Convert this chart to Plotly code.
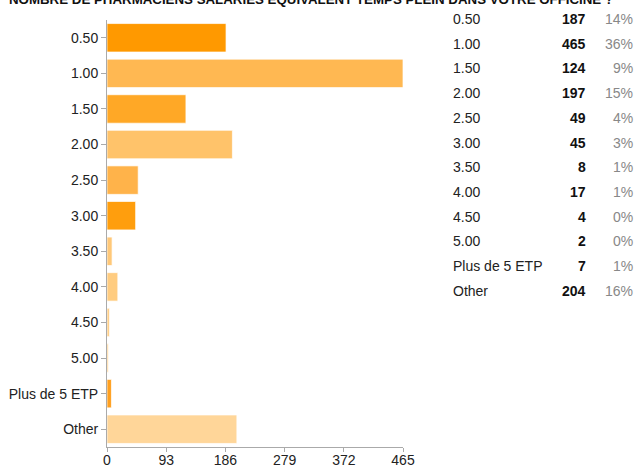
import plotly.graph_objects as go

title = "NOMBRE DE PHARMACIENS SALARIÉS ÉQUIVALENT TEMPS PLEIN DANS VOTRE OFFICINE ?"
categories = ["0.50", "1.00", "1.50", "2.00", "2.50", "3.00", "3.50", "4.00",
              "4.50", "5.00", "Plus de 5 ETP", "Other"]
counts = [187, 465, 124, 197, 49, 45, 8, 17, 4, 2, 7, 204]
percents = ["14%", "36%", "9%", "15%", "4%", "3%", "1%", "1%", "0%", "0%", "1%", "16%"]
tick_vals = [0, 93, 186, 279, 372, 465]
bar_colors = ["#FF9900", "#FFB852", "#FFA826", "#FFC36A", "#FFB34A", "#FF9E0D",
              "#FFC878", "#FFCC80", "#FFD08A", "#FFCC80", "#FFA020", "#FFD699"]

FONT = "Liberation Sans, Arial, sans-serif"

fig = go.Figure()
fig.add_trace(go.Bar(
    y=categories, x=counts, orientation="h",
    marker=dict(color=bar_colors, line=dict(color="rgba(255,255,255,0.7)", width=1)),
    width=0.8, hoverinfo="x+y",
))

# plot area in pixels: left 107, right 403, top 20, bottom 447
L, R, T, B = 107, 403, 20, 447
def px_x(p):
    return (p - L) / (R - L)
def px_y(p):
    return (B - p) / (B - T)

annotations = [dict(
    text="<b>" + title + "</b>", xref="paper", yref="paper",
    x=px_x(7), y=px_y(0), xanchor="left", yanchor="middle", showarrow=False,
    font=dict(family=FONT, size=13.3, color="#111"),
)]
row0, step = 19, 24.7
for i, (c, n, p) in enumerate(zip(categories, counts, percents)):
    yy = px_y(row0 + i * step)
    annotations.append(dict(text=c, xref="paper", yref="paper", x=px_x(451), y=yy,
                            xanchor="left", yanchor="middle", showarrow=False,
                            font=dict(family=FONT, size=14, color="#222")))
    annotations.append(dict(text="<b>" + str(n) + "</b>", xref="paper", yref="paper",
                            x=px_x(588), y=yy, xanchor="right", yanchor="middle",
                            showarrow=False, font=dict(family=FONT, size=14, color="#111")))
    annotations.append(dict(text=p, xref="paper", yref="paper", x=px_x(635), y=yy,
                            xanchor="right", yanchor="middle", showarrow=False,
                            font=dict(family=FONT, size=14, color="#888")))

fig.update_layout(
    width=638, height=466,
    margin=dict(l=L, r=638 - R, t=T, b=466 - B, pad=0, autoexpand=False),
    paper_bgcolor="white", plot_bgcolor="white",
    showlegend=False, bargap=0.2,
    font=dict(family=FONT, size=14, color="#222"),
    annotations=annotations,
    xaxis=dict(range=[0, 465], tickvals=tick_vals, ticktext=[str(v) for v in tick_vals],
               showgrid=False, zeroline=False, showline=True, linecolor="#aaa",
               linewidth=1, ticks="outside", ticklen=4, tickcolor="#aaa", automargin=False,
               ticklabelstandoff=-4,
               tickfont=dict(family=FONT, size=14, color="#222"), fixedrange=True),
    yaxis=dict(categoryorder="array", categoryarray=categories, autorange="reversed",
               showgrid=False, zeroline=False, showline=True, linecolor="#aaa",
               linewidth=1, ticks="outside", ticklen=5, tickcolor="#aaa", automargin=False,
               tickfont=dict(family=FONT, size=14, color="#222"), fixedrange=True),
)

fig.write_html("out.html", config={"displayModeBar": False},
               post_script="document.body.style.margin='0px';document.body.style.overflow='hidden';")
